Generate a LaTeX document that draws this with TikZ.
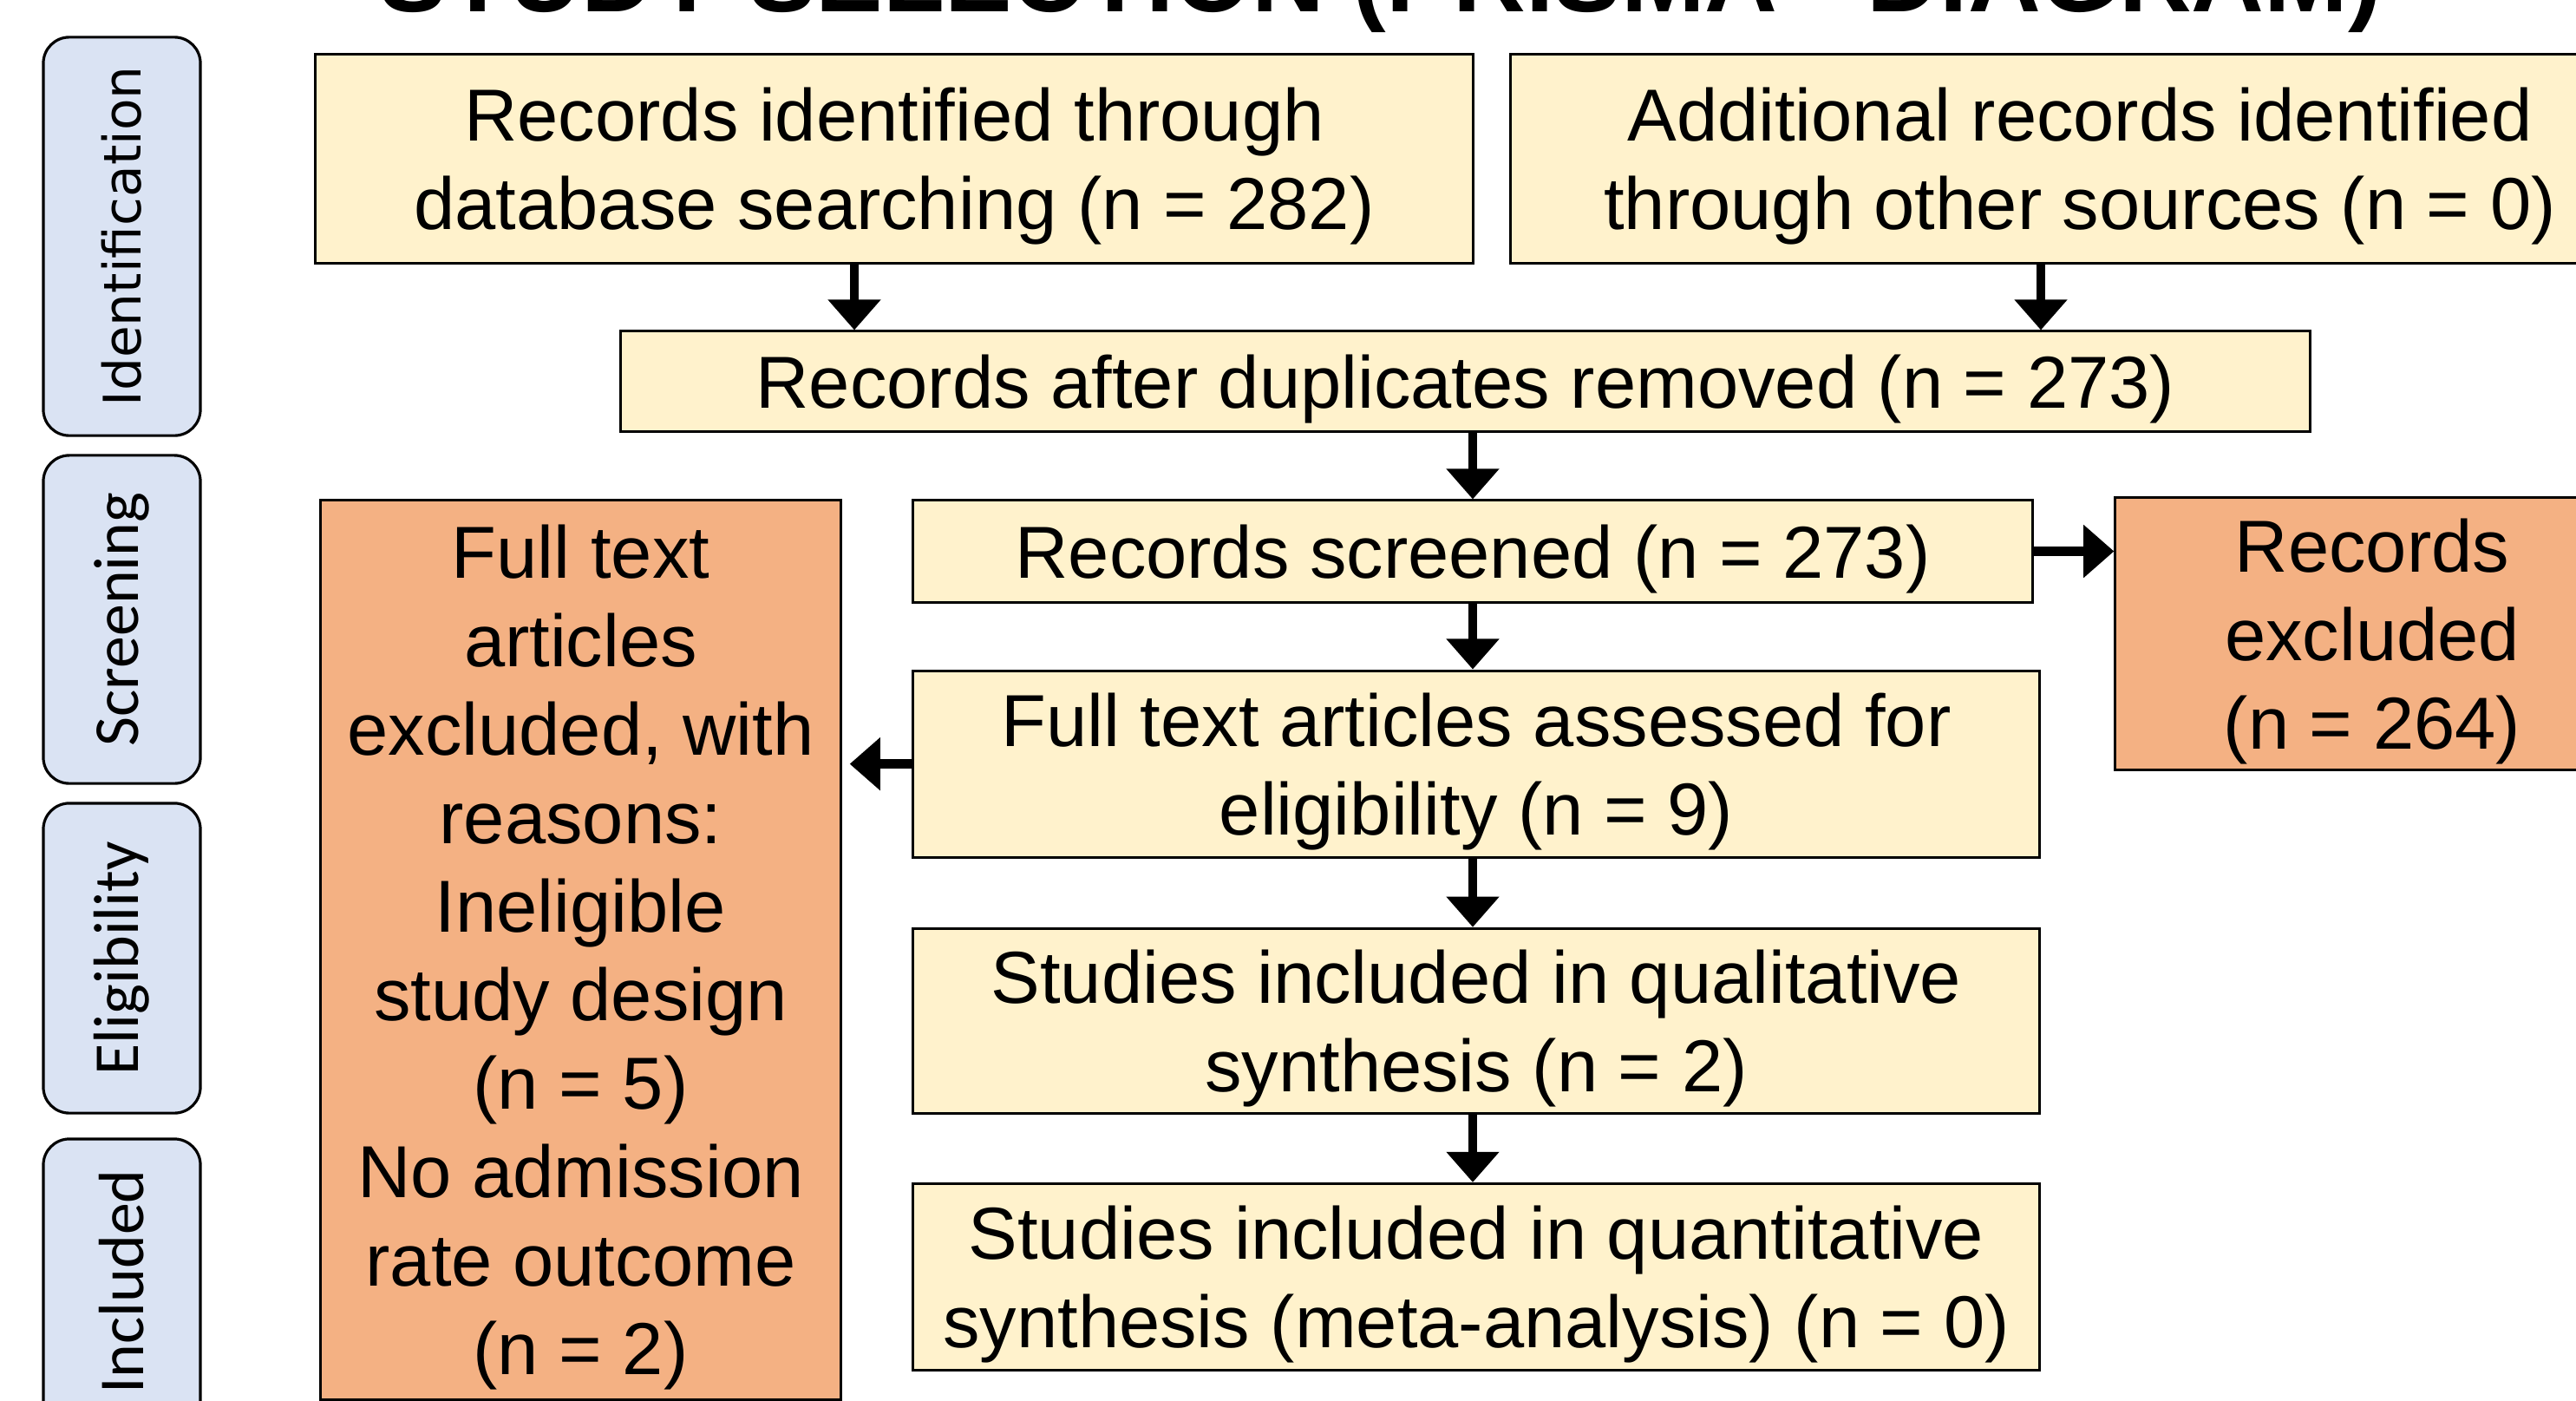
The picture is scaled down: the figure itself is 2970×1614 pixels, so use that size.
\documentclass[tikz,border=0pt]{standalone}
\usepackage{fontspec}
\setmainfont{Liberation Sans}
\newfontfamily\calfont{Carlito}
\newfontfamily\dejafont{DejaVu Sans}
\usetikzlibrary{arrows.meta,positioning,shapes}

\definecolor{boxyellow}{HTML}{FFF2CC}
\definecolor{boxorange}{HTML}{F4B183}
\definecolor{stageblue}{HTML}{DAE3F3}

\newcommand{\tpad}{\rule{0pt}{0.93em}}

\begin{document}
\begin{tikzpicture}[x=0.01cm,y=-0.01cm,
  stage/.style={draw=black,line width=0.9pt,fill=stageblue,rounded corners=0.3cm,rotate=90,
    minimum height=1.81cm,inner sep=0pt,font=\calfont\fontsize{21}{25}\selectfont},
  flow/.style={draw=black,line width=0.85pt,fill=boxyellow,align=center,inner sep=0pt,
    font=\fontsize{24.15}{29}\selectfont},
  excl/.style={flow,fill=boxorange},
  arr/.style={line width=3.1pt,-{Triangle[length=10pt,width=16.8pt]}}]

\clip (0,0) rectangle (2970,1614);

\node[anchor=base,inner sep=0pt,font=\bfseries\fontsize{33}{40}\selectfont] (title) at (1592,13)
  {STUDY SELECTION (PRISMA - DIAGRAM)};

% stages
\node[stage,minimum width=4.59cm,font=\dejafont\fontsize{17}{20}\selectfont] (idf) at (140.5,272.5) {Identification};
\foreach \nm/\txt/\yc/\len in {scr/Screening/714/3.78cm,elg/Eligibility/1104.5/3.57cm,inc/Included/1477.5/3.29cm}
  \node[stage,minimum width=\len] (\nm) at (140.5,\yc) {\txt};

% flow
\node[flow,minimum width=13.34cm,minimum height=2.40cm] (db) at (1031,183)
  {\tpad Records identified through\\database searching (n = 282)};
\node[flow,minimum width=13.12cm,minimum height=2.40cm] (other) at (2398,183)
  {\tpad Additional records identified\\through other sources (n = 0)};
\node[flow,minimum width=19.47cm,minimum height=1.15cm] (dup) at (1689.5,439.5)
  {\tpad Records after duplicates removed (n = 273)};
\node[flow,minimum width=12.90cm,minimum height=1.17cm] (scrn) at (1698,635.5)
  {\tpad Records screened (n = 273)};
\node[flow,minimum width=12.98cm,minimum height=2.15cm,below=0.76cm of scrn,xshift=0.04cm] (full)
  {\tpad Full text articles assessed for\\eligibility (n = 9)};
\node[flow,minimum width=12.98cm,minimum height=2.13cm,below=0.79cm of full] (qual)
  {\tpad Studies included in qualitative\\synthesis (n = 2)};
\node[flow,minimum width=12.98cm,minimum height=2.15cm,below=0.78cm of qual] (quant)
  {\tpad Studies included in quantitative\\synthesis (meta-analysis) (n = 0)};

% excluded
\node[excl,minimum width=5.99cm,minimum height=10.36cm] (exft) at (669.5,1095)
  {\tpad Full text\\articles\\excluded, with\\reasons:\\Ineligible\\study design\\(n = 5)\\No admission\\rate outcome\\(n = 2)};
\node[excl,minimum width=5.92cm,minimum height=3.13cm] (exrec) at (2735,730.5)
  {\tpad Records\\excluded\\(n = 264)};

\coordinate (dbx) at (985,0);
\coordinate (othx) at (2353,0);
\draw[arr] (db.south -| dbx) -- (dup.north -| dbx);
\draw[arr] (other.south -| othx) -- (dup.north -| othx);
\draw[arr] (dup.south -| scrn.north) -- (scrn.north);
\draw[arr] (scrn.east) -- (exrec.west |- scrn.east);
\draw[arr] (scrn.south) -- (full.north -| scrn.south);
\draw[arr,shorten >=0.09cm] (full.west) -- (exft.east |- full.west);
\draw[arr] (full.south -| scrn.south) -- (qual.north -| scrn.south);
\draw[arr] (qual.south -| scrn.south) -- (quant.north -| scrn.south);

\end{tikzpicture}
\end{document}
